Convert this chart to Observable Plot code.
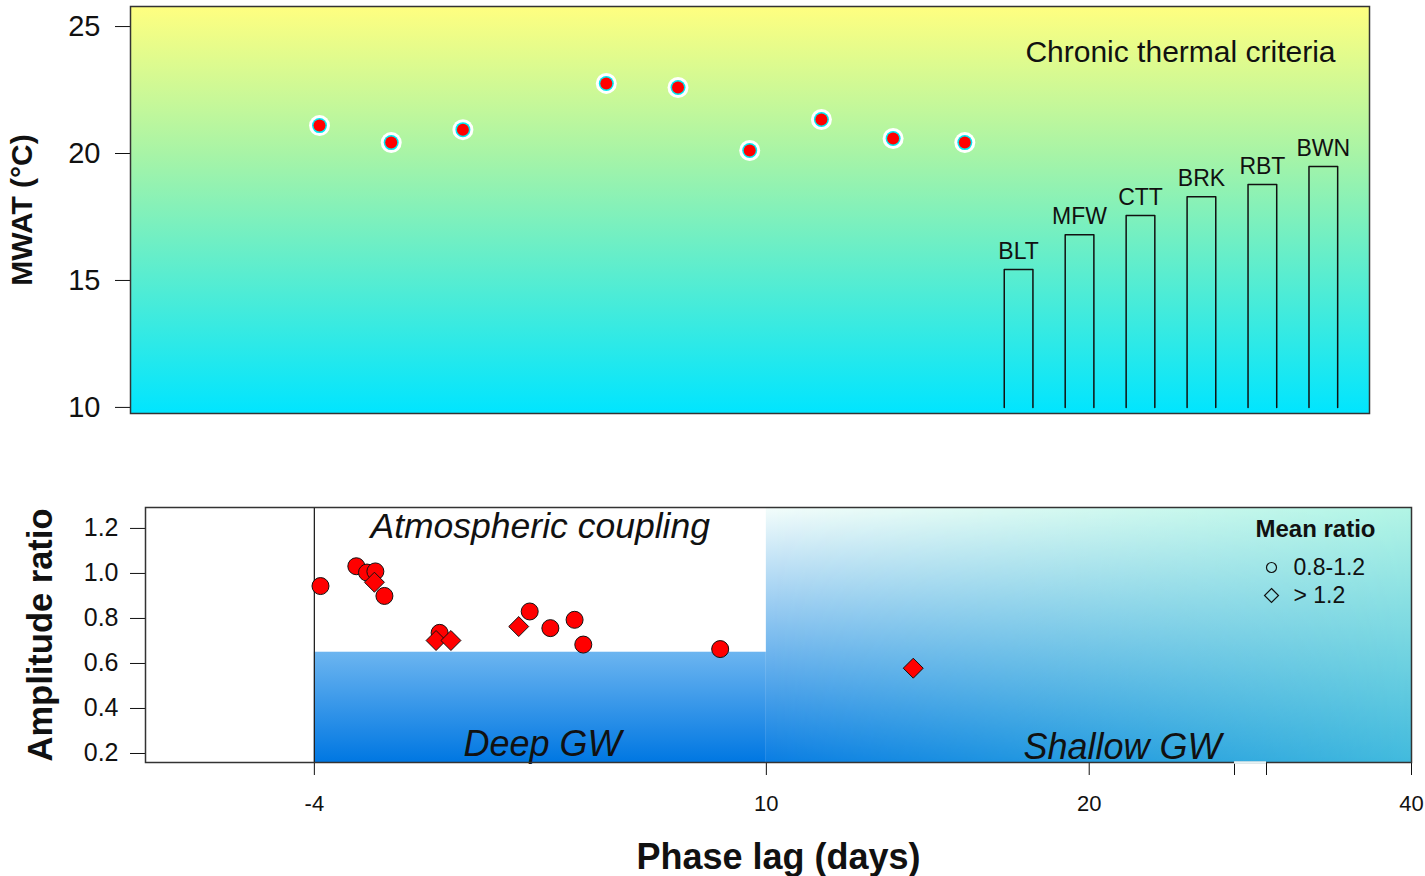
<!DOCTYPE html>
<html><head><meta charset="utf-8">
<script src="https://cdn.jsdelivr.net/npm/d3@7"></script>
<script src="https://cdn.jsdelivr.net/npm/@observablehq/plot@0.6"></script>
<style>
body{margin:0;background:#fff;}
#wrap{position:relative;width:1425px;height:876px;overflow:hidden;background:#fff;}
#top,#bot{position:absolute;left:0;}
#top{top:0}
#bot{top:440px}
</style></head><body><div id="wrap"><div id="top"></div><div id="bot"></div></div>
<script>
const FONT = '"Liberation Sans", Arial, Helvetica, sans-serif';

// ---------- top panel data ----------
const siteIndex = [1, 2, 3, 5, 6, 7, 8, 9, 10];
const mwat = [21.1, 20.43, 20.94, 22.76, 22.6, 20.12, 21.34, 20.59, 20.43];
const criteriaLabels = ["BLT", "MFW", "CTT", "BRK", "RBT", "BWN"];
const criteriaValues = [15.43, 16.8, 17.56, 18.3, 18.78, 19.49];
const mwatTicks = [10, 15, 20, 25];
const topTitle = "Chronic thermal criteria";
const topYLabel = "MWAT (°C)";

// ---------- bottom panel data ----------
const circleLag = [-3.81, -2.70, -2.37, -2.11, -1.83, -0.12, 2.67, 3.31, 4.06, 4.33, 8.57];
const circleRatio = [0.944, 1.032, 1.004, 1.009, 0.90, 0.736, 0.831, 0.757, 0.794, 0.684, 0.664];
const diamondLag = [-2.14, -0.23, 0.23, 2.33, 14.55];
const diamondRatio = [0.961, 0.702, 0.702, 0.764, 0.579];
const lagTicks = [-4, 10, 20, 24.5, 35.5, 40];
const lagTickLabels = ["-4", "10", "20", "", "", "40"];
const ratioTicks = [0.2, 0.4, 0.6, 0.8, 1.0, 1.2];
const deepZone = {x1: -4, x2: 10, top: 0.65};
const shallowZone = {x1: 10, x2: 40};
const axisBreak = [24.5, 35.5];
const legendTitle = "Mean ratio";
const legendLabels = ["0.8-1.2", "> 1.2"];

function defs(html) {
  return () => {
    const g = document.createElementNS("http://www.w3.org/2000/svg", "g");
    g.innerHTML = html;
    return g;
  };
}

// ---------- top plot ----------
const topXDomain = [-1.636, 15.644];
const topYDomain = [9.76, 25.79];
const barHalf = 0.2;
const barBase = mwatTicks[0];
const barData = criteriaLabels.map((name, j) => ({name, x: 10.75 + 0.85 * j, v: criteriaValues[j]}));
const barOutline = barData.flatMap(b => [
  {name: b.name, x: b.x - barHalf, y: barBase},
  {name: b.name, x: b.x - barHalf, y: b.v},
  {name: b.name, x: b.x + barHalf, y: b.v},
  {name: b.name, x: b.x + barHalf, y: barBase}
]);
const sites = siteIndex.map((i, k) => ({x: i, y: mwat[k]}));

const topPlot = Plot.plot({
  width: 1425, height: 440,
  marginLeft: 130, marginRight: 56, marginTop: 6, marginBottom: 27,
  x: {domain: topXDomain, axis: null},
  y: {domain: topYDomain},
  style: {fontFamily: FONT, background: "transparent", overflow: "visible"},
  marks: [
    defs(`<defs><linearGradient id="gTop" x1="0" y1="0" x2="0" y2="1">
      <stop offset="0" stop-color="#ffff80"/><stop offset="0.36" stop-color="#a8f4a6"/>
      <stop offset="1" stop-color="#00e5ff"/></linearGradient></defs>`),
    Plot.frame({fill: "url(#gTop)"}),
    Plot.line(barOutline, {x: "x", y: "y", z: "name", stroke: "#111", strokeWidth: 1.5}),
    Plot.text(barData, {x: "x", y: "v", text: "name", dy: -18, fontSize: 23, fill: "#111"}),
    Plot.dot(sites, {x: "x", y: "y", r: 10.5, fill: "white"}),
    Plot.dot(sites, {x: "x", y: "y", r: 7.5, fill: "#00e8f0"}),
    Plot.dot(sites, {x: "x", y: "y", r: 6, fill: "#ff0000"}),
    Plot.axisY({ticks: mwatTicks, tickSize: 15, tickPadding: 15, fontSize: 29, color: "#111", label: null}),
    Plot.text([topTitle], {text: d => d, frameAnchor: "top-right", dx: -34, dy: 46, textAnchor: "end", lineAnchor: "middle", fontSize: 30, fill: "#111"}),
    Plot.text([topYLabel], {text: d => d, frameAnchor: "left", dx: -108, rotate: -90, textAnchor: "middle", lineAnchor: "middle", fontSize: 30, fontWeight: "bold", fill: "#111"}),
    Plot.frame({stroke: "#333", strokeWidth: 1.5})
  ]
});
document.getElementById("top").appendChild(topPlot);

// ---------- bottom plot ----------
const botYDomain = [0.16, 1.293];
const circles = circleLag.map((x, k) => ({x, y: circleRatio[k]}));
const diamonds = diamondLag.map((x, k) => ({x, y: diamondRatio[k]}));

const botPlot = Plot.plot({
  width: 1425, height: 436,
  marginLeft: 145, marginRight: 14, marginTop: 67, marginBottom: 114,
  x: {type: "linear", domain: [-9.23, axisBreak[0], axisBreak[1], 40], range: [145, 1234, 1266, 1411]},
  y: {domain: botYDomain},
  style: {fontFamily: FONT, background: "transparent", overflow: "visible"},
  marks: [
    defs(`<defs>
      <linearGradient id="gDeep" x1="0" y1="0" x2="0" y2="1">
        <stop offset="0" stop-color="#6cb5f0"/><stop offset="1" stop-color="#0077e2"/></linearGradient>
      <linearGradient id="gShL" x1="0" y1="0" x2="0" y2="1">
        <stop offset="0" stop-color="#f4fdfb"/><stop offset="1" stop-color="#0a7ee3"/></linearGradient>
      <linearGradient id="gShR" x1="0" y1="0" x2="0" y2="1">
        <stop offset="0" stop-color="#b2f5e5"/><stop offset="1" stop-color="#42badd"/></linearGradient>
      <linearGradient id="gMaskH" x1="0" y1="0" x2="1" y2="0">
        <stop offset="0" stop-color="black"/><stop offset="1" stop-color="white"/></linearGradient>
      <mask id="mShallow" maskUnits="objectBoundingBox" maskContentUnits="objectBoundingBox" x="0" y="0" width="1" height="1">
        <rect x="0" y="0" width="1" height="1" fill="url(#gMaskH)"/></mask>
      </defs>`),
    Plot.rect([deepZone], {x1: "x1", x2: "x2", y1: () => botYDomain[0], y2: "top", fill: "url(#gDeep)"}),
    Plot.rect([shallowZone], {x1: "x1", x2: "x2", y1: () => botYDomain[0], y2: () => botYDomain[1], fill: "url(#gShL)"}),
    Plot.rect([shallowZone], {x1: "x1", x2: "x2", y1: () => botYDomain[0], y2: () => botYDomain[1], fill: "url(#gShR)"}),
    Plot.ruleX([deepZone.x1], {stroke: "#222", strokeWidth: 1.3}),
    Plot.axisX({ticks: lagTicks, tickFormat: d => lagTickLabels[lagTicks.indexOf(d)], tickSize: 13, tickPadding: 20, fontSize: 22, color: "#111", label: null}),
    Plot.axisY({ticks: ratioTicks, tickFormat: d3.format(".1f"), tickSize: 15, tickPadding: 12, fontSize: 25, color: "#111", label: null}),
    Plot.text(["Atmospheric coupling"], {text: d => d, frameAnchor: "top-left", dx: 225, dy: 19, textAnchor: "start", lineAnchor: "middle", fontSize: 35.5, fontStyle: "italic", fill: "#111"}),
    Plot.text(["Deep GW"], {text: d => d, frameAnchor: "bottom-left", dx: 318, dy: -18, textAnchor: "start", lineAnchor: "middle", fontSize: 36, fontStyle: "italic", fill: "#111"}),
    Plot.text(["Shallow GW"], {text: d => d, frameAnchor: "bottom-left", dx: 878, dy: -15, textAnchor: "start", lineAnchor: "middle", fontSize: 36, fontStyle: "italic", fill: "#111"}),
    Plot.dot(circles, {x: "x", y: "y", r: 8.5, fill: "#ff0000", stroke: "#111", strokeWidth: 1}),
    Plot.dot(diamonds, {x: "x", y: "y", r: 9, symbol: "diamond2", fill: "#ff0000", stroke: "#111", strokeWidth: 1}),
    Plot.text([legendTitle], {text: d => d, frameAnchor: "top-right", dx: -96, dy: 22, textAnchor: "middle", lineAnchor: "middle", fontSize: 24, fontWeight: "bold", fill: "#111"}),
    Plot.dot([legendLabels[0]], {frameAnchor: "top-right", dx: -140, dy: 60, r: 5, fill: "none", stroke: "#111", strokeWidth: 1.2}),
    Plot.dot([legendLabels[1]], {frameAnchor: "top-right", dx: -140, dy: 88, r: 6.3, symbol: "diamond2", fill: "none", stroke: "#111", strokeWidth: 1.2}),
    Plot.text([legendLabels[0]], {text: d => d, frameAnchor: "top-right", dx: -118, dy: 60, textAnchor: "start", lineAnchor: "middle", fontSize: 23, fill: "#111"}),
    Plot.text([legendLabels[1]], {text: d => d, frameAnchor: "top-right", dx: -118, dy: 88, textAnchor: "start", lineAnchor: "middle", fontSize: 23, fill: "#111"}),
    Plot.text(["Amplitude ratio"], {text: d => d, frameAnchor: "left", dx: -105, rotate: -90, textAnchor: "middle", lineAnchor: "middle", fontSize: 34.5, fontWeight: "bold", fill: "#111"}),
    Plot.text(["Phase lag (days)"], {text: d => d, frameAnchor: "bottom", dy: 95, textAnchor: "middle", lineAnchor: "middle", fontSize: 36, fontWeight: "bold", fill: "#111"}),
    Plot.frame({stroke: "#333", strokeWidth: 1.5}),
    Plot.ruleY([botYDomain[0]], {x1: axisBreak[0], x2: axisBreak[1], stroke: "#e6f2f4", strokeWidth: 2.5})
  ]
});
botPlot.querySelectorAll('[fill="url(#gShR)"]').forEach(el => el.setAttribute("mask", "url(#mShallow)"));
document.getElementById("bot").appendChild(botPlot);
</script></body></html>
